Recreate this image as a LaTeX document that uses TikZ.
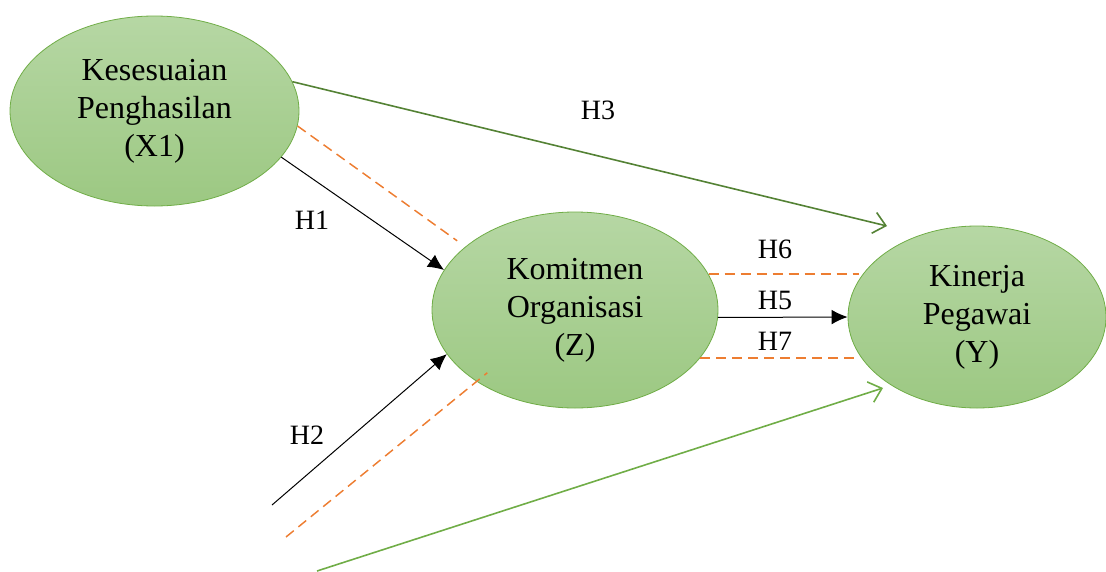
\documentclass[tikz,border=0pt]{standalone}
\usepackage{fontspec}
\setmainfont{Liberation Serif}
\usetikzlibrary{shapes.geometric,arrows.meta}
\definecolor{vtop}{HTML}{B6D7A4}
\definecolor{vbot}{HTML}{9CC882}
\definecolor{vgreen}{HTML}{70AD47}
\definecolor{vdark}{HTML}{548235}
\definecolor{vorange}{HTML}{ED7D31}

\begin{document}
\begin{tikzpicture}[x=0.75pt,y=-0.75pt,>={Latex[length=12pt,width=11pt]},
    var/.style={ellipse,draw=vgreen,line width=0.6pt,top color=vtop,bottom color=vbot,
        inner sep=0pt,align=center,font=\fontsize{24}{28.5}\selectfont},
    hyp/.style={font=\fontsize{21}{24}\selectfont},
    direct/.style={->,line width=0.75pt},
    mediat/.style={vorange,line width=1.1pt,dash pattern=on 7.5pt off 4.5pt},
    total/.style={-{Straight Barb[length=9pt,width=16pt]},line width=1.2pt}]
        \useasboundingbox (0,0) rectangle (1106,571);
        % variables
        \node[var,minimum width=216.75pt,minimum height=142.5pt] (x1) at (154.5,111) {Kesesuaian\\Penghasilan\\(X1)};
        \node[var,minimum width=214.5pt,minimum height=147pt] (z) at (575,310) {Komitmen\\Organisasi\\(Z)};
        \node[var,minimum width=193.5pt,minimum height=136.5pt] (y) at (977,317) {Kinerja\\Pegawai\\(Y)};
        % free ends
        \coordinate (h3tip) at (887,226);
        \coordinate (h2foot) at (272,505);
        \coordinate (dashfoot) at (286,537);
        \coordinate (grfoot) at (317,571);
        \coordinate (grtip) at (883,388);
        % paths
        \draw[total,vdark] (x1.12) -- (h3tip);
        \draw[mediat,shorten >=7.5pt] (x1.-6) -- (z.150);
        \draw[direct] (x1.-20) -- (z.163);
        \draw[direct] (h2foot) -- (z.199);
        \draw[mediat,shorten >=-10.4pt] (dashfoot) -- (z.216);
        \draw[mediat] (z.15) -- (z.15 -| y.162);
        \draw[direct] (z.-3) -- (y.180);
        \draw[mediat] (z.-21) -- (z.-21 -| y.198);
        \draw[total,vgreen] (grfoot) -- (grtip);
        % hypotheses
        \node[hyp] (h1) at (312,220) {H1};
        \node[hyp] (h2) at (307,435) {H2};
        \node[hyp] (h3) at (598,110) {H3};
        \node[hyp] (h6) at (775,249) {H6};
        \node[hyp] (h5) at (775,300) {H5};
        \node[hyp] (h7) at (775,341) {H7};
\end{tikzpicture}
\end{document}
